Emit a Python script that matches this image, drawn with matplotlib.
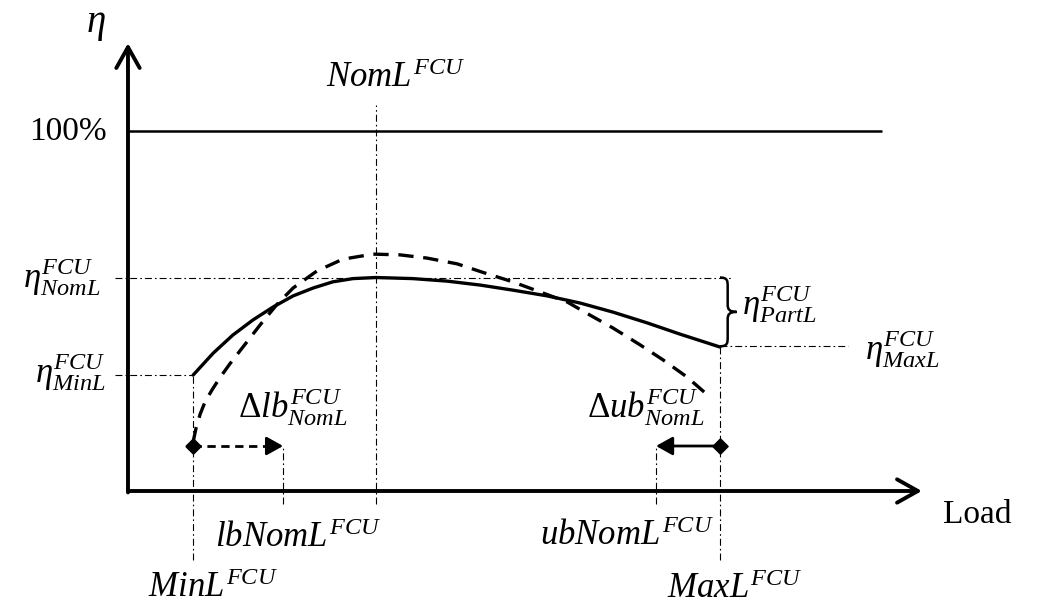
import matplotlib
matplotlib.use("Agg")
import matplotlib.pyplot as plt
from matplotlib.path import Path
from matplotlib.patches import PathPatch

plt.rcParams['mathtext.fontset'] = 'custom'
plt.rcParams['mathtext.rm'] = 'Liberation Serif'
plt.rcParams['mathtext.it'] = 'Liberation Serif:italic'
plt.rcParams['mathtext.bf'] = 'Liberation Serif:bold'
plt.rcParams['mathtext.sf'] = 'Liberation Serif'
plt.rcParams['lines.scale_dashes'] = False

# ---------------- data (load in % of MaxL, efficiency in %) ----------------
load_solid = [11.0, 14.4, 17.7, 21.1, 24.5, 27.9, 31.3, 34.6, 38.0, 41.9,
              48.1, 53.9, 59.5, 65.0, 70.8, 76.4, 81.9, 87.7, 93.2, 100.0]
eta_solid = [32.2, 38.3, 43.3, 47.5, 51.1, 54.2, 56.4, 58.1, 59.0, 59.3,
             59.0, 58.3, 57.2, 55.8, 54.2, 52.2, 49.7, 46.7, 43.6, 40.0]

load_dashed = [11.0, 11.5, 12.2, 13.0, 14.2, 15.5, 17.2, 18.9, 20.6, 22.3,
               25.2, 27.9, 31.9, 36.3, 41.4, 45.9, 50.5, 55.6, 60.0, 65.0,
               69.6, 74.2, 78.0, 81.9, 86.5, 90.4, 94.4, 98.3]
eta_dashed = [13.6, 17.5, 21.4, 24.7, 28.1, 31.4, 35.3, 38.9, 42.5, 46.1,
              51.9, 56.4, 61.1, 64.4, 65.8, 65.6, 64.7, 63.1, 60.7, 58.1,
              55.3, 52.5, 48.9, 45.3, 40.6, 36.4, 31.7, 26.1]

MIN_L, LB_NOM_L, NOM_L, UB_NOM_L, MAX_L = 11.0, 26.2, 41.9, 89.2, 100.0
ETA_MIN_L, ETA_NOM_L, ETA_MAX_L, ETA_FULL = 32.2, 59.3, 40.2, 100.0
ETA_BOUND = 12.5          # level of the bound arrows

x_label = "Load"
y_label = r"$\eta$"
full_label = "100%"

# ---------------- figure ----------------
fig = plt.figure(figsize=(10.38, 6.04), dpi=100)
ax = fig.add_axes([0, 0, 1, 1])
ax.set_xlim(-21.62, 153.72)
ax.set_ylim(-31.39, 136.39)
ax.axis('off')

DD = (0, (5, 2.2, 1.2, 2.2))   # dash-dot pattern
thin = dict(color='black', lw=0.8, linestyle=DD)

# axes arrows
arrow_axis = dict(arrowstyle='->,head_length=0.75,head_width=0.42', lw=2.8,
                  color='black', shrinkA=0, shrinkB=0, mutation_scale=20)
ax.annotate('', xy=(0, 124.4), xytext=(0, -0.4), arrowprops=arrow_axis)
ax.annotate('', xy=(134.1, 0), xytext=(0, 0), arrowprops=arrow_axis)

# 100 % line
ax.plot([0, 127.4], [ETA_FULL, ETA_FULL], color='black', lw=1.8,
        solid_capstyle='butt')

# helper dash-dot lines
ax.plot([NOM_L, NOM_L], [-3.6, 107.2], **thin)
ax.plot([-2.2, 102.2], [ETA_NOM_L, ETA_NOM_L], **thin)
ax.plot([-2.2, MIN_L], [ETA_MIN_L, ETA_MIN_L], **thin)
ax.plot([MIN_L, MIN_L], [-19.2, ETA_MIN_L], **thin)
ax.plot([LB_NOM_L, LB_NOM_L], [-3.6, ETA_BOUND], **thin)
ax.plot([UB_NOM_L, UB_NOM_L], [-3.6, ETA_BOUND], **thin)
ax.plot([MAX_L, MAX_L], [-19.2, ETA_MAX_L], **thin)
ax.plot([MAX_L, 121.6], [ETA_MAX_L, ETA_MAX_L], **thin)

# curves
ax.plot(load_solid, eta_solid, color='black', lw=2.4, solid_joinstyle='round',
        solid_capstyle='round')
ax.plot(load_dashed, eta_dashed, color='black', lw=2.4,
        linestyle=(0, (11, 7)), dash_capstyle='butt')

# bound arrows
head = dict(arrowstyle='-|>,head_length=0.5,head_width=0.28', lw=2.0,
            color='black', shrinkA=0, shrinkB=0, mutation_scale=20)
ax.plot([MIN_L, LB_NOM_L - 1.5], [ETA_BOUND, ETA_BOUND], color='black', lw=2.0,
        linestyle=(0, (6, 4)))
ax.annotate('', xy=(LB_NOM_L, ETA_BOUND), xytext=(LB_NOM_L - 2.0, ETA_BOUND),
            arrowprops=head)
ax.annotate('', xy=(UB_NOM_L, ETA_BOUND), xytext=(MAX_L, ETA_BOUND),
            arrowprops=head)

diamond = Path([(-1, 0), (0, 1), (1, 0), (0, -1), (-1, 0)])
ax.plot([MIN_L, MAX_L], [ETA_BOUND, ETA_BOUND], linestyle='none',
        marker=diamond, markersize=11, color='black')

# brace for partial-load efficiency loss
x0, top, bot = MAX_L, ETA_NOM_L, ETA_MAX_L
mid = (top + bot) / 2
hw, w = 1.3, 2.8
verts = [(x0, top), (x0 + hw, top), (x0 + hw, top - 1.0), (x0 + hw, top - 2.5),
         (x0 + hw, mid + 2.0),
         (x0 + hw, mid + 0.7), (x0 + hw + 0.3, mid), (x0 + w, mid),
         (x0 + hw + 0.3, mid), (x0 + hw, mid - 0.7), (x0 + hw, mid - 2.0),
         (x0 + hw, bot + 2.5),
         (x0 + hw, bot + 1.0), (x0 + hw, bot), (x0, bot)]
codes = [Path.MOVETO, Path.CURVE4, Path.CURVE4, Path.CURVE4, Path.LINETO,
         Path.CURVE4, Path.CURVE4, Path.CURVE4, Path.CURVE4, Path.CURVE4,
         Path.CURVE4, Path.LINETO, Path.CURVE4, Path.CURVE4, Path.CURVE4]
ax.add_patch(PathPatch(Path(verts, codes), facecolor='none', edgecolor='black',
                       lw=1.8))

# ---------------- labels ----------------
FS = 25
serif = dict(family='Liberation Serif', fontsize=24, color='black')
ax.text(-7.1, 127.6, y_label, fontsize=28, ha='left', va='baseline')
ax.text(-3.6, 97.5, full_label, ha='right', va='baseline', **serif)
ax.text(137.7, -8.9, x_label, ha='left', va='baseline', **serif)

ax.text(33.4, 112.2, r"$NomL^{FCU}$", fontsize=FS, ha='left', va='baseline')
ax.text(-17.7, 56.4, r"$\eta^{FCU}_{NomL}$", fontsize=FS, ha='left', va='baseline')
ax.text(-15.7, 30.0, r"$\eta^{FCU}_{MinL}$", fontsize=FS, ha='left', va='baseline')
ax.text(18.6, 20.3, r"$\Delta lb^{FCU}_{NomL}$", fontsize=FS, ha='left', va='baseline')
ax.text(14.7, -15.6, r"$lbNomL^{FCU}$", fontsize=FS, ha='left', va='baseline')
ax.text(3.4, -29.4, r"$MinL^{FCU}$", fontsize=FS, ha='left', va='baseline')
ax.text(77.5, 20.3, r"$\Delta ub^{FCU}_{NomL}$", fontsize=FS, ha='left', va='baseline')
ax.text(69.6, -15.0, r"$ubNomL^{FCU}$", fontsize=FS, ha='left', va='baseline')
ax.text(91.0, -29.7, r"$MaxL^{FCU}$", fontsize=FS, ha='left', va='baseline')
ax.text(103.7, 48.9, r"$\eta^{FCU}_{PartL}$", fontsize=FS, ha='left', va='baseline')
ax.text(124.5, 36.4, r"$\eta^{FCU}_{MaxL}$", fontsize=FS, ha='left', va='baseline')

fig.savefig("out.png", dpi=100)
